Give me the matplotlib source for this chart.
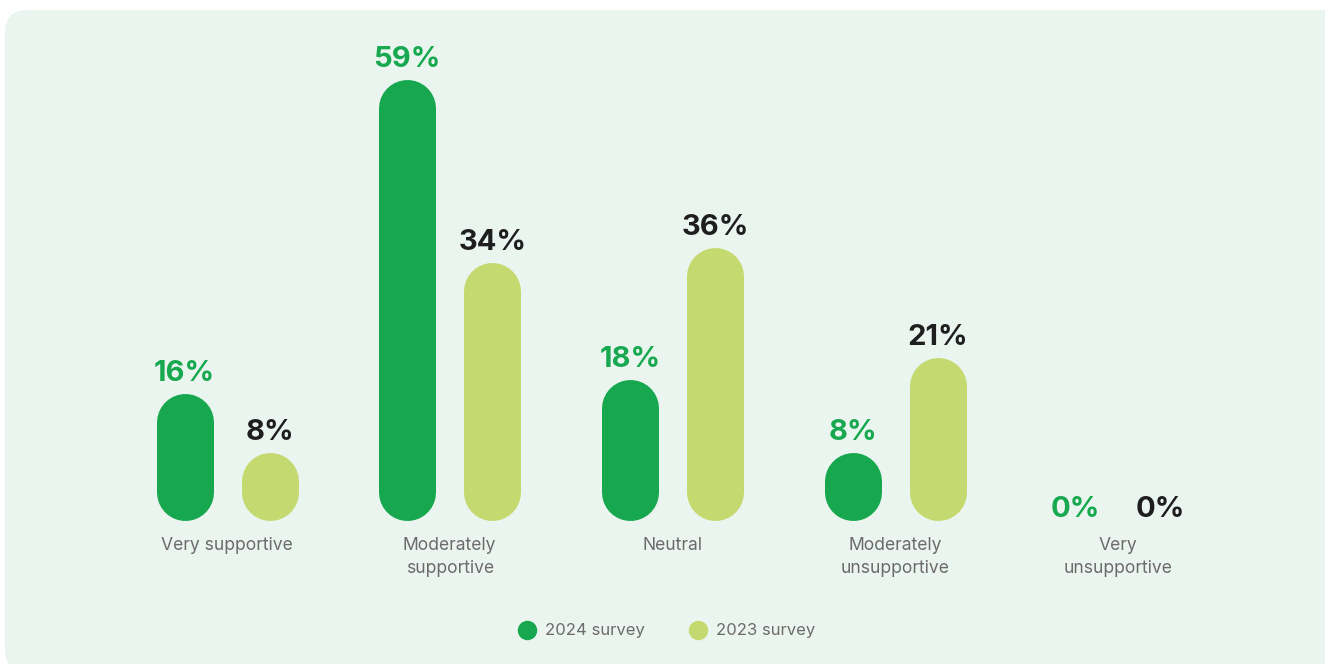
import numpy as np
import matplotlib.pyplot as plt
from matplotlib.patches import FancyBboxPatch
from matplotlib.lines import Line2D

plt.rcParams['font.family'] = ['Inter', 'DejaVu Sans']

categories = ['Very supportive', 'Moderately\nsupportive', 'Neutral',
              'Moderately\nunsupportive', 'Very\nunsupportive']
survey_2024 = [16, 59, 18, 8, 0]
survey_2023 = [8, 34, 36, 21, 0]
series_names = ['2024 survey', '2023 survey']

dark_green = '#17a74f'
light_green = '#c4da70'
panel_bg = '#eaf5f0'
label_gray = '#6b6b6b'

W, H, DPI = 1325, 664, 100
fig = plt.figure(figsize=(W / DPI, H / DPI), dpi=DPI, facecolor='white')

# rounded background panel
panel = FancyBboxPatch((5 / W, -8 / H), 1340 / W, 662 / H,
                       boxstyle='round,pad=0,rounding_size=0.017',
                       mutation_aspect=W / H,
                       transform=fig.transFigure, facecolor=panel_bg,
                       edgecolor='none', zorder=-5)
fig.patches.append(panel)

# axes: zero line ~511px from top, 7.3 px per percent, groups every ~223 px
px_per_pct = 7.3
base_pad = 9.5          # pill bottoms sit this many px below the zero line
zero_px = 520 - base_pad
group_px = 222.75
ymax = 60
ax_left = 227 - group_px / 2
ax = fig.add_axes([ax_left / W, (H - zero_px) / H, 5 * group_px / W,
                   ymax * px_per_pct / H])
ax.set_xlim(-0.5, 4.5)
ax.set_ylim(0, ymax)
ax.axis('off')
ax.patch.set_visible(False)

bar_px = 57
offset = 42.5 / group_px
r = (bar_px / 2) / px_per_pct  # cap radius in data units
pad = base_pad / px_per_pct
lw = bar_px * 72 / DPI

x = np.arange(len(categories))
for vals, col, txtcol, sign in [(survey_2024, dark_green, '#18a84f', -1),
                                 (survey_2023, light_green, '#1e1e1e', 1)]:
    for xi, v in zip(x + sign * offset, vals):
        if v > 0:
            lo = -pad + r
            hi = max(v - r, lo)
            ax.plot([xi, xi], [lo, hi], color=col, lw=lw,
                    solid_capstyle='round', zorder=2, clip_on=False)
            dy = 9.0
        else:
            dy = -4.5
        ax.annotate(f'{v}%', (xi, v), xytext=(0, dy), textcoords='offset points',
                    ha='center', va='baseline', fontsize=21, fontweight='bold',
                    color=txtcol, annotation_clip=False)

for xi, name in zip(x, categories):
    ax.annotate(name, (xi, -pad), xytext=(0, -12), textcoords='offset points',
                ha='center', va='top', fontsize=12.6, color=label_gray,
                linespacing=1.45, annotation_clip=False)

handles = [Line2D([], [], marker='o', ls='', ms=14, color=c, markeredgewidth=0)
           for c in (dark_green, light_green)]
fig.legend(handles, series_names, loc='center', bbox_to_anchor=(667 / W, (H - 631) / H),
           ncol=2, frameon=False, fontsize=12, labelcolor=label_gray,
           handletextpad=0.6, columnspacing=2.7, handlelength=1.0)

fig.savefig('out.png', dpi=DPI, facecolor='white')
